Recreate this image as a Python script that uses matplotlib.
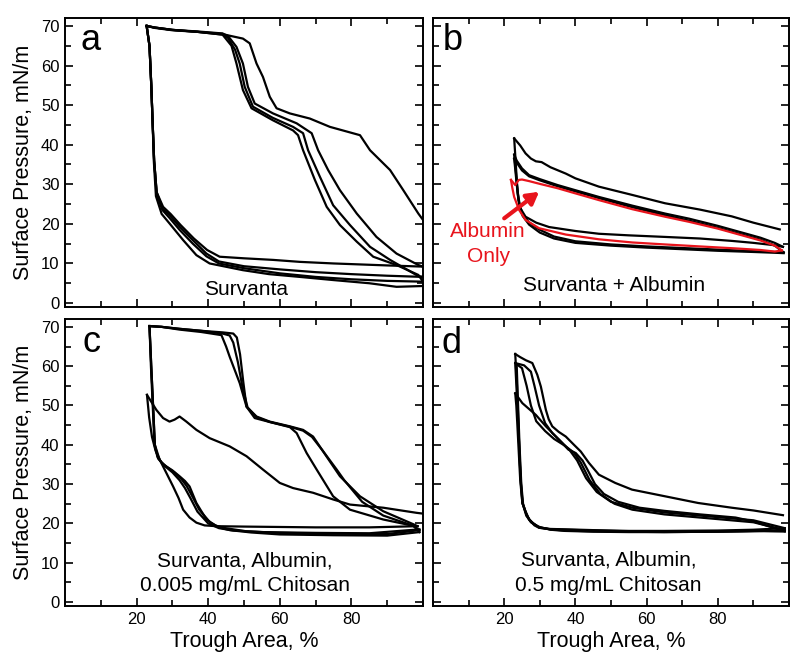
import matplotlib
matplotlib.use("Agg")
import matplotlib.pyplot as plt

plt.rcParams['font.family'] = ['Liberation Sans', 'DejaVu Sans']

# ---------------- Panel a : Survanta ----------------
a_c1_x = [100, 98.7, 94.5, 90.8, 85.2, 82.4, 74, 68.4, 62.8, 59.1, 57.2, 55.3, 53.5, 51.6, 49.7, 45.1, 37, 30, 25, 22.8]
a_c1_y = [21, 22.6, 28.5, 33.6, 38.6, 42.4, 44.5, 46.6, 47.9, 49.2, 52.1, 57.1, 60.5, 65.6, 66.8, 67.7, 68.5, 68.9, 69.5, 70]
a_e1_x = [22.8, 23.6, 24.1, 24.5, 24.9, 25.6, 27.4, 29.5, 32.3, 36, 39.7, 43.2, 50, 58.1, 65.6, 75, 90, 100]
a_e1_y = [70, 65, 55, 45, 36, 28, 24.3, 22.5, 19.7, 16.3, 13.4, 11.7, 11.3, 10.9, 10.4, 10, 9.5, 9.2]
a_c2_x = [100, 98.7, 92.6, 87, 81.5, 76.8, 73.5, 70.7, 68.9, 64.7, 58.1, 53, 51.1, 49.7, 47.9, 45.5, 44, 37, 30, 25, 22.8]
a_c2_y = [9.2, 9.6, 12.5, 16.7, 22.6, 28.5, 33.6, 38.6, 42.9, 45.4, 47.9, 50.4, 54.6, 60.5, 64.7, 67.5, 68.1, 68.6, 69, 69.6, 70]
a_e2_x = [22.8, 23.6, 24.1, 24.5, 24.9, 25.6, 27.2, 29.2, 32, 35.7, 39.5, 43, 50, 60, 70, 80, 90, 100]
a_e2_y = [70, 65, 55, 45, 36, 28, 23.9, 22.2, 19.3, 15.9, 12.5, 10.5, 9.3, 8.5, 7.8, 7.3, 6.9, 6.6]
a_c3_x = [100, 98.7, 90.8, 85.2, 79.6, 74.9, 71.2, 67.9, 66.5, 63.7, 58, 52.5, 50.2, 48.8, 47.5, 45.5, 44, 37, 30, 25, 22.8]
a_c3_y = [6.6, 6.8, 10.9, 14.2, 19.7, 24.7, 31.9, 38.6, 42.9, 44.5, 46.8, 49.6, 54.6, 60.5, 64, 67, 68, 68.5, 69, 69.6, 70]
a_e3_x = [22.8, 23.6, 24.1, 24.5, 24.9, 25.6, 27.2, 29.2, 32, 35.7, 39.5, 43, 50, 60, 70, 80, 90, 100]
a_e3_y = [70, 65, 55, 45, 36, 27.5, 23.5, 21.5, 18.5, 15, 11.8, 10, 8.8, 7.5, 6.6, 6.0, 5.6, 5.4]
a_c4_x = [100, 98.7, 92.6, 86.1, 81.5, 76.8, 73.1, 69.8, 66.5, 65.1, 63.7, 58, 52.1, 49.7, 47.9, 46.5, 44, 37, 30, 25, 22.8]
a_c4_y = [5.4, 7.1, 9.6, 11.7, 15.5, 19.7, 24.3, 31.1, 38.6, 42.4, 43.6, 46.2, 49.2, 53.8, 60.5, 65, 67.8, 68.5, 69, 69.6, 70]
a_e4_x = [22.8, 23.6, 24.1, 24.5, 24.8, 25.4, 27, 29.2, 33, 36.7, 40.4, 49.7, 57, 65.6, 75, 85, 92.6, 100]
a_e4_y = [70, 65, 55, 45, 36, 27, 22.5, 20.1, 15.9, 12.1, 10, 8.3, 7.3, 6.6, 5.8, 5.0, 4.1, 4.3]

# ---------------- Panel b : Survanta + Albumin ----------------
b_c1_x = [97.4, 90, 83.9, 75, 65.2, 56, 46.6, 40, 37.3, 33, 30.5, 28.9, 27.5, 26, 24.5, 22.8]
b_c1_y = [18.6, 20.3, 21.9, 23.6, 25.2, 27.3, 29.4, 31.5, 32.7, 34.3, 35.6, 35.8, 36.5, 37.8, 39.8, 41.6]
b_e1_x = [22.8, 23.2, 23.6, 24.0, 24.5, 26, 29, 32.6, 40, 46.6, 55, 65.2, 75, 83.9, 90, 96, 98.3]
b_e1_y = [41.6, 36, 30, 26, 24, 21.8, 20.3, 19.2, 18.2, 17.5, 17.1, 16.7, 16.3, 15.7, 15.2, 14.6, 14.2]
b_c2_x = [98.3, 96, 92, 86, 80, 72, 65.2, 56, 46.6, 40, 35, 30, 27, 25, 23.5, 22.8]
b_c2_y = [14.2, 15.2, 16.5, 18.0, 19.5, 21.3, 22.6, 24.6, 26.8, 28.5, 29.8, 31.3, 32.3, 34, 36, 37.5]
b_e2_x = [22.8, 23.3, 23.8, 24.4, 25.2, 27, 30, 34, 40, 50, 60, 70, 80, 90, 96, 98.5]
b_e2_y = [37.5, 33, 28, 24.5, 22.5, 20.3, 18.5, 16.8, 15.6, 14.8, 14.3, 13.9, 13.5, 13.1, 12.9, 12.8]
b_c3_x = [98.5, 96, 92, 86, 80, 72, 65.2, 56, 46.6, 40, 35, 30, 27, 25, 23.5, 22.8]
b_c3_y = [12.8, 14.5, 16.0, 17.5, 19.0, 20.8, 22.2, 24.2, 26.5, 28.2, 29.5, 31.0, 32.0, 33.5, 35.5, 36.5]
b_e3_x = [22.8, 23.3, 23.8, 24.4, 25.2, 27, 30, 34, 40, 50, 60, 70, 80, 90, 96, 98.5]
b_e3_y = [36.5, 32, 27.5, 24, 22, 19.8, 17.8, 16.3, 15.2, 14.5, 14.0, 13.6, 13.2, 12.9, 12.7, 12.6]
b_red_c_x = [98, 96, 92, 86, 80, 72, 65.2, 56, 46.6, 40, 35, 30, 27, 25, 24.1, 23.1, 21.9]
b_red_c_y = [13.3, 14.5, 15.8, 17.3, 18.8, 20.5, 21.8, 23.7, 26, 27.7, 29, 30.1, 30.8, 31.2, 31.1, 29.8, 31.1]
b_red_e_x = [21.9, 22.3, 22.8, 24.2, 26, 29.8, 37.3, 46.6, 56, 65.2, 75, 85, 92, 96, 98]
b_red_e_y = [31.1, 29.0, 26.8, 23.5, 21.0, 18.9, 17.3, 16.1, 15.3, 14.8, 14.3, 13.8, 13.4, 13.0, 13.3]

# ---------------- Panel c : Survanta, Albumin, 0.005 mg/mL Chitosan ----------------
c_c1_x = [100, 98.2, 88.9, 79.6, 74.9, 69.3, 63.7, 60, 55.3, 50.7, 46, 40.4, 36.7, 33.9, 32, 30.6, 29.2, 27.4, 25.5, 22.9]
c_c1_y = [22.5, 22.7, 24.0, 24.8, 26.1, 27.8, 29.0, 30.3, 33.7, 37.1, 39.6, 41.7, 43.8, 45.9, 47.2, 46.4, 45.9, 46.8, 48.9, 52.7]
c_e1_x = [22.9, 23.5, 24.3, 25.3, 26.9, 28.5, 30.2, 31.7, 33, 34.8, 36.7, 39, 42.3, 50, 60, 70, 85, 98.5]
c_e1_y = [52.7, 47, 42, 38.5, 35.4, 32.5, 29.4, 26.5, 23.5, 21.5, 20.2, 19.5, 19.3, 19.2, 19.1, 19.0, 19.0, 19.3]
c_c2_x = [98.5, 97.3, 88.9, 82.4, 76.8, 73, 69.3, 66.5, 62.8, 57.2, 53.5, 50.7, 49.8, 48.9, 48, 47, 44, 38, 32, 27, 23.6]
c_c2_y = [19.3, 19.8, 23.1, 26.9, 32, 37.1, 42.1, 43.8, 44.7, 45.9, 47.2, 49.7, 56, 63, 67.3, 68.3, 68.6, 69, 69.5, 70, 70.2]
c_e2_x = [23.6, 24.0, 24.5, 25.0, 25.8, 27, 28.3, 30, 32, 33.5, 34.8, 36.7, 39.5, 42, 44.1, 50.7, 60, 75, 90, 99]
c_e2_y = [70.2, 60, 50, 40, 37, 35.5, 34.5, 33.5, 32, 30.8, 29.4, 25.2, 21, 19.5, 18.9, 18.0, 17.6, 17.4, 17.3, 18.3]
c_c3_x = [99, 97.3, 88.9, 83, 78, 75.9, 72, 69, 66.5, 62.8, 57.2, 53.5, 51, 49.5, 48.3, 47, 46, 44, 38, 32, 27, 23.6]
c_c3_y = [18.3, 19.4, 22, 25.5, 31, 33.7, 38.5, 42, 43.6, 44.6, 45.8, 47.0, 49.5, 55, 61, 66, 67.8, 68.3, 69, 69.5, 70, 70.2]
c_e3_x = [23.6, 24.1, 24.6, 25.1, 26, 27.5, 29, 30.5, 32.5, 34, 35.5, 37.5, 40.5, 43, 46, 52, 60, 75, 90, 99]
c_e3_y = [70.2, 60, 50, 40, 36.5, 35, 34, 33, 31.3, 29.5, 27, 23.5, 20.3, 19, 18.3, 17.7, 17.2, 17.0, 16.9, 17.8]
c_c4_x = [99, 97.3, 88.9, 79.6, 74.9, 70.3, 67.5, 64.7, 62.8, 57.2, 53, 50.7, 48.8, 46, 45, 43.7, 38, 32, 27, 23.6]
c_c4_y = [17.8, 19.4, 21, 23.5, 26.9, 33.7, 37.9, 43, 44.5, 45.8, 46.8, 49.7, 55.7, 62.4, 65, 67.9, 68.7, 69.3, 70, 70.2]
c_e4_x = [23.6, 24.1, 24.6, 25.1, 26.5, 28, 30, 32, 33.5, 35, 37, 40, 43, 47, 55, 70, 85, 99]
c_e4_y = [70.2, 60, 50, 40, 36, 34.5, 33, 31, 29, 26.5, 23, 20, 18.8, 18.2, 17.8, 17.6, 17.5, 18.5]

# ---------------- Panel d : Survanta, Albumin, 0.5 mg/mL Chitosan ----------------
d_c1_x = [98.3, 90, 83.9, 74.5, 65.2, 55.9, 51.2, 46.6, 43.8, 41.5, 39.6, 37.3, 35.3, 33.5, 32.5, 31.7, 30.3, 29.3, 27.9, 26.1, 24.5, 23.1]
d_c1_y = [22.1, 23.3, 24.0, 25.2, 26.9, 28.6, 30.3, 32.4, 35.4, 38.3, 40.0, 42.1, 43.3, 44.7, 46.5, 48.9, 54.8, 57.8, 60.8, 61.5, 62.3, 63.1]
d_e1_x = [23.1, 23.6, 24.0, 24.4, 24.8, 25.1, 26, 27, 28.5, 29.8, 33, 37.3, 45, 55, 65, 80, 90, 98.8]
d_e1_y = [63.1, 55, 45, 35, 29, 25.2, 23, 21.0, 19.8, 18.9, 18.6, 18.5, 18.3, 18.1, 18.1, 18.2, 18.4, 18.8]
d_c2_x = [98.8, 90, 85, 75, 65, 56, 50, 46, 43, 40.5, 38.5, 36.3, 33.5, 31.5, 29.8, 28.5, 27.5, 25.6, 23.1]
d_c2_y = [18.8, 20.8, 21.2, 22.0, 22.8, 24.0, 25.5, 28.0, 31.5, 36.0, 38.5, 40.5, 43.0, 45.5, 50.0, 55.0, 58.6, 60.2, 60.8]
d_e2_x = [23.1, 23.7, 24.2, 24.7, 25.2, 26.2, 27.5, 29.5, 33, 37, 45, 55, 65, 80, 90, 98.8]
d_e2_y = [60.8, 50, 40, 30, 25, 22, 20.3, 19.2, 18.4, 18.1, 17.9, 17.8, 17.8, 17.9, 18.0, 18.3]
d_c3_x = [98.8, 90, 85, 75, 65, 56, 51, 47, 44, 41.5, 39.6, 37, 34, 31.5, 29, 27.5, 26.3, 25, 23.5]
d_c3_y = [18.3, 20.3, 20.7, 21.5, 22.3, 23.5, 25.0, 27.5, 31.0, 35.5, 38.0, 39.8, 41.5, 43.5, 46.0, 50.0, 55.0, 59.5, 60.5]
d_e3_x = [23.5, 23.9, 24.3, 24.8, 25.3, 26.3, 27.8, 30, 33, 37, 45, 55, 65, 80, 90, 98.8]
d_e3_y = [60.5, 50, 40, 30, 25, 22, 20.2, 19.0, 18.5, 18.2, 18.0, 17.9, 17.8, 17.9, 18.1, 18.0]
d_c4_x = [98.8, 90, 85, 75, 65, 58, 52, 48, 45.5, 43.5, 42, 40.1, 38, 35.4, 31.7, 28.9, 25.1, 23.1]
d_c4_y = [18.0, 20.5, 21.5, 22.3, 23.2, 24.0, 25.5, 27.5, 30.0, 33.5, 36.0, 37.9, 38.8, 41.3, 44.7, 47.6, 50.6, 53.1]
d_e4_x = [23.1, 23.4, 23.7, 24.1, 24.5, 25.1, 26.0, 27, 28.5, 29.8, 33, 37.3, 45, 55, 65, 80, 90, 98.8]
d_e4_y = [53.1, 50, 45, 38, 31, 25.2, 23, 21.0, 19.5, 18.9, 18.5, 18.4, 18.2, 18.0, 17.9, 18.0, 18.1, 18.0]

x_major = [20, 40, 60, 80]
x_minor = [0, 10, 30, 50, 70, 90, 100]
y_major = [0, 10, 20, 30, 40, 50, 60, 70]
y_minor = [5, 15, 25, 35, 45, 55, 65]

panel_curves = {
    'a': [(a_c1_x, a_c1_y), (a_e1_x, a_e1_y), (a_c2_x, a_c2_y), (a_e2_x, a_e2_y),
          (a_c3_x, a_c3_y), (a_e3_x, a_e3_y), (a_c4_x, a_c4_y), (a_e4_x, a_e4_y)],
    'b': [(b_c1_x, b_c1_y), (b_e1_x, b_e1_y), (b_c2_x, b_c2_y), (b_e2_x, b_e2_y),
          (b_c3_x, b_c3_y), (b_e3_x, b_e3_y)],
    'c': [(c_c1_x, c_c1_y), (c_e1_x, c_e1_y), (c_c2_x, c_c2_y), (c_e2_x, c_e2_y),
          (c_c3_x, c_c3_y), (c_e3_x, c_e3_y), (c_c4_x, c_c4_y), (c_e4_x, c_e4_y)],
    'd': [(d_c1_x, d_c1_y), (d_e1_x, d_e1_y), (d_c2_x, d_c2_y), (d_e2_x, d_e2_y),
          (d_c3_x, d_c3_y), (d_e3_x, d_e3_y), (d_c4_x, d_c4_y), (d_e4_x, d_e4_y)],
}

fig = plt.figure(figsize=(8.0, 6.65), dpi=100)
rects = {
    'a': [65/800, 1-307/665, 358/800, 289/665],
    'b': [433/800, 1-307/665, 356/800, 289/665],
    'c': [65/800, 1-606/665, 358/800, 287/665],
    'd': [433/800, 1-606/665, 356/800, 287/665],
}
letter_pos = {'a': (0.042, 0.889), 'b': (0.027, 0.889), 'c': (0.049, 0.886), 'd': (0.024, 0.883)}

axes = {}
for key in ['a', 'b', 'c', 'd']:
    ax = fig.add_axes(rects[key])
    axes[key] = ax
    for xs, ys in panel_curves[key]:
        ax.plot(xs, ys, color='black', lw=1.6, solid_joinstyle='round')
    ax.set_xlim(0, 100)
    ax.set_ylim(-1, 72)
    ax.set_xticks(x_major)
    ax.set_xticks(x_minor, minor=True)
    ax.set_yticks(y_major)
    ax.set_yticks(y_minor, minor=True)
    ax.tick_params(which='both', direction='in', top=True, right=True, width=1.2,
                   labelsize=12, pad=4, colors='black')
    ax.tick_params(which='major', length=6)
    ax.tick_params(which='minor', length=4)
    for sp in ax.spines.values():
        sp.set_linewidth(1.4)
    if key in ('a', 'b'):
        ax.tick_params(labelbottom=False)
    else:
        ax.set_xlabel('Trough Area, %', fontsize=15.5, labelpad=3)
    if key in ('b', 'd'):
        ax.tick_params(labelleft=False)
    else:
        ax.set_ylabel('Surface Pressure, mN/m', fontsize=15.5, labelpad=5)
    lx, ly = letter_pos[key]
    ax.text(lx, ly, key, transform=ax.transAxes, fontsize=26, va='baseline', ha='left')

ax = axes['b']
ax.plot(b_red_c_x, b_red_c_y, color='#e8141c', lw=1.6)
ax.plot(b_red_e_x, b_red_e_y, color='#e8141c', lw=1.6)
ax.annotate('', xy=(29.8, 28.1), xytext=(20.0, 21.4),
            arrowprops=dict(arrowstyle='-|>,head_length=0.7,head_width=0.4', color='#e8141c',
                            lw=3, shrinkA=0, shrinkB=0))
ax.text(15.5, 16.7, 'Albumin', color='#e8141c', fontsize=15, ha='center', va='baseline')
ax.text(15.5, 10.4, 'Only', color='#e8141c', fontsize=15, ha='center', va='baseline')
ax.text(51, 3.1, 'Survanta + Albumin', fontsize=15, ha='center', va='baseline')

axes['a'].text(50.7, 2.0, 'Survanta', fontsize=15, ha='center', va='baseline')
axes['c'].text(50.1, 9.1, 'Survanta, Albumin,', fontsize=15, ha='center', va='baseline')
axes['c'].text(50.2, 2.8, '0.005 mg/mL Chitosan', fontsize=15, ha='center', va='baseline')
axes['d'].text(49.4, 9.3, 'Survanta, Albumin,', fontsize=15, ha='center', va='baseline')
axes['d'].text(49.1, 2.7, '0.5 mg/mL Chitosan', fontsize=15, ha='center', va='baseline')

fig.savefig('out.png', dpi=100)
